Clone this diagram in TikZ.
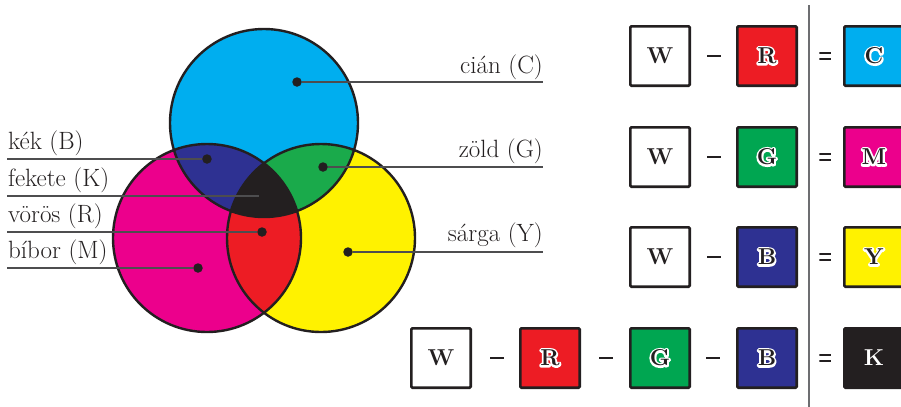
\documentclass[tikz,border=0pt]{standalone}
\usepackage{fontspec}

\definecolor{cC}{HTML}{00AEEF}
\definecolor{cM}{HTML}{EC008C}
\definecolor{cY}{HTML}{FFF200}
\definecolor{cR}{HTML}{ED1C24}
\definecolor{cG}{HTML}{00A651}
\definecolor{cGv}{HTML}{1AAA4B}
\definecolor{cB}{HTML}{2E3192}
\definecolor{cK}{HTML}{231F20}
\definecolor{ink}{HTML}{231F20}
\definecolor{leadgray}{HTML}{4D4D4F}
\definecolor{sepgray}{HTML}{6D6E71}

\newcommand{\lblfont}{\fontsize{25bp}{29bp}\selectfont}
\newcommand{\boxletters}{\fontsize{23bp}{27bp}\selectfont\bfseries}

% letter with a white outline behind it (stroked copy, then the filled letter)
\newcommand{\haloed}[1]{%
  \rlap{\special{pdf:literal direct q 1 Tr 1 j 3.8 w}\textcolor{white}{#1}\special{pdf:literal direct Q}}%
  #1}

\tikzset{
  ring/.style={draw=ink, line width=2.4bp},
  leader/.style={draw=leadgray, line width=1.3bp},
  dot/.style={circle, fill=ink, minimum size=9.5bp, inner sep=0pt},
  lbl/.style={font=\lblfont, text=ink, inner sep=0pt},
  sq/.style={draw=ink, line width=2.6bp, rounded corners=1.2bp,
    minimum size=59.4bp, inner sep=0pt, font=\boxletters, text=ink},
  minus/.style={fill=ink, minimum width=14bp, minimum height=2.4bp, inner sep=0pt},
  eqsign/.style={minimum width=11.5bp, minimum height=8.8bp, inner sep=0pt,
    path picture={
      \fill[ink] (path picture bounding box.north west) rectangle
        ([yshift=-2.2bp]path picture bounding box.north east);
      \fill[ink] (path picture bounding box.south west) rectangle
        ([yshift=2.2bp]path picture bounding box.south east);}},
}

\begin{document}
\begin{tikzpicture}[x=1bp,y=-1bp]
\useasboundingbox (0,0) rectangle (901,406);
\clip (0,0) rectangle (901,406);

% --- subtractive colour circles ---
\coordinate (cyanC) at (264,123);
\coordinate (magC)  at (207,238);
\coordinate (yelC)  at (321,238);

\fill[cC] (cyanC) circle[radius=94bp];
\fill[cM] (magC)  circle[radius=94bp];
\fill[cY] (yelC)  circle[radius=94bp];
\begin{scope}
  \clip (cyanC) circle[radius=94bp];
  \fill[cB]  (magC) circle[radius=94bp];
  \fill[cGv] (yelC) circle[radius=94bp];
\end{scope}
\begin{scope}
  \clip (magC) circle[radius=94bp];
  \fill[cR] (yelC) circle[radius=94bp];
  \clip (cyanC) circle[radius=94bp];
  \fill[cK] (yelC) circle[radius=94bp];
\end{scope}
\draw[ring] (cyanC) circle[radius=94bp];
\draw[ring] (magC)  circle[radius=94bp];
\draw[ring] (yelC)  circle[radius=94bp];

% --- labels on the right ---
\node[dot] (dC) at (297,82) {};
\coordinate (eC) at (543,82);
\node[lbl, anchor=base east] (tC) at (543,73) {cián (C)};
\draw[leader] (dC) -- (eC);

\node[dot] (dG) at (323,167) {};
\coordinate (eG) at (543,167);
\node[lbl, anchor=base east] (tG) at (543,157.5) {zöld (G)};
\draw[leader] (dG) -- (eG);

\node[dot] (dY) at (348,252) {};
\coordinate (eY) at (543,252);
\node[lbl, anchor=base east] (tY) at (543,241) {sárga (Y)};
\draw[leader] (dY) -- (eY);

% --- labels on the left ---
\node[dot] (dB) at (207,159) {};
\coordinate (sB) at (7,159);
\node[lbl, anchor=base west] (tB) at (8,149.5) {kék (B)};
\draw[leader] (sB) -- (dB);

\node[dot] (dK) at (264,196) {};
\coordinate (sK) at (7,196);
\node[lbl, anchor=base west] (tK) at (8,186.5) {fekete (K)};
\draw[leader] (sK) -- (dK);

\node[dot] (dR) at (262,232) {};
\coordinate (sR) at (7,232);
\node[lbl, anchor=base west] (tR) at (8,222.5) {vörös (R)};
\draw[leader] (sR) -- (dR);

\node[dot] (dM) at (198,268) {};
\coordinate (sM) at (7,268);
\node[lbl, anchor=base west] (tM) at (8,258.5) {bíbor (M)};
\draw[leader] (sM) -- (dM);

% --- separator ---
\coordinate (sepTop) at (809,5);
\coordinate (sepBot) at (809,410);
\draw[sepgray, line width=1.6bp] (sepTop) -- (sepBot);

% --- row 1: W - R = C ---
\node[sq, fill=white] (w1) at (660,56) {W};
\node[minus] (m1) at (714,56) {};
\node[sq, fill=cR] (r1) at (767,56) {\haloed{R}};
\node[eqsign] (e1) at (825,56) {};
\node[sq, fill=cC] (c1) at (874,56) {\haloed{C}};

% --- row 2: W - G = M ---
\node[sq, fill=white] (w2) at (660,157) {W};
\node[minus] (m2) at (714,157) {};
\node[sq, fill=cG] (g2) at (767,157) {\haloed{G}};
\node[eqsign] (e2) at (825,157) {};
\node[sq, fill=cM] (c2) at (874,157) {\haloed{M}};

% --- row 3: W - B = Y ---
\node[sq, fill=white] (w3) at (660,257) {W};
\node[minus] (m3) at (714,257) {};
\node[sq, fill=cB] (b3) at (767,257) {\haloed{B}};
\node[eqsign] (e3) at (825,257) {};
\node[sq, fill=cY] (c3) at (874,257) {\haloed{Y}};

% --- row 4: W - R - G - B = K ---
\node[sq, fill=white] (w4) at (441,358) {W};
\node[minus] (m4a) at (497,358) {};
\node[sq, fill=cR] (r4) at (550,358) {\haloed{R}};
\node[minus] (m4b) at (606,358) {};
\node[sq, fill=cG] (g4) at (660,358) {\haloed{G}};
\node[minus] (m4c) at (713,358) {};
\node[sq, fill=cB] (b4) at (767,358) {\haloed{B}};
\node[eqsign] (e4) at (825,358) {};
\node[sq, fill=cK, text=white] (k4) at (874,358) {K};
\end{tikzpicture}
\end{document}
